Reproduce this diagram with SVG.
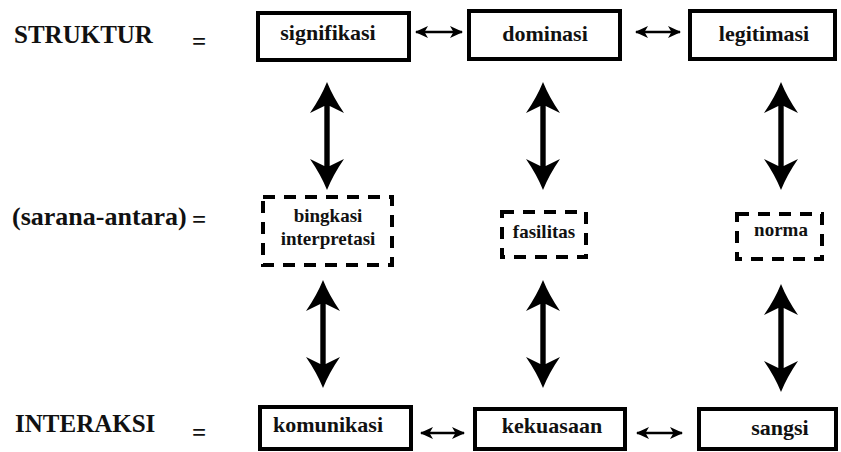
<svg xmlns="http://www.w3.org/2000/svg" xmlns:xlink="http://www.w3.org/1999/xlink" width="841" height="452" viewBox="0 0 841 452">
<style>
  text { font-family: "Liberation Serif", "DejaVu Serif", serif; font-weight: bold; fill: #111; }
  .lbl { font-size: 25px; }
  .txt { font-size: 22px; text-anchor: middle; }
  .txt2 { font-size: 19px; text-anchor: middle; }
  .box { fill: #fff; stroke: #000; stroke-width: 4; }
  .dbox { fill: #fff; stroke: #000; stroke-width: 4; stroke-dasharray: 12 9; }
  .h { stroke: #000; stroke-width: 2.5; fill: none; marker-start: url(#ah); marker-end: url(#ah); }
  .v { fill: #000; }
</style>
<defs>
  <marker id="ah" markerUnits="userSpaceOnUse" markerWidth="14" markerHeight="14" refX="12" refY="7" orient="auto-start-reverse">
    <path d="M0,1 L13,7 L0,13 L3.5,7 Z" fill="#000"/>
  </marker>
  <path id="va" d="M0,0 Q6,15 17,31 L2.7,24 L2.7,84 L17,77 Q6,93 0,108 Q-6,93 -17,77 L-2.7,84 L-2.7,24 L-17,31 Q-6,15 0,0 Z"/>
</defs>

<g id="labels">
  <text class="lbl" x="14" y="43">STRUKTUR</text>
  <text class="lbl" x="192" y="50">=</text>
  <text class="lbl" x="12" y="225" style="font-size:26px">(sarana-antara)</text>
  <text class="lbl" x="192" y="228">=</text>
  <text class="lbl" x="15" y="432">INTERAKSI</text>
  <text class="lbl" x="192" y="441">=</text>
</g>

<g id="connectors">
  <line class="h" x1="416" y1="32" x2="462" y2="32"/>
  <line class="h" x1="636" y1="32" x2="680" y2="32"/>
  <line class="h" x1="421" y1="433" x2="464" y2="433"/>
  <line class="h" x1="637" y1="433" x2="682" y2="433"/>
  <use class="v" href="#va" xlink:href="#va" x="327" y="82"/>
  <use class="v" href="#va" xlink:href="#va" x="543" y="82"/>
  <use class="v" href="#va" xlink:href="#va" x="781" y="82"/>
  <use class="v" href="#va" xlink:href="#va" x="323" y="280"/>
  <use class="v" href="#va" xlink:href="#va" x="543" y="280"/>
  <use class="v" href="#va" xlink:href="#va" x="781" y="284"/>
</g>

<g id="signifikasi">
  <rect class="box" x="258" y="13" width="151" height="47"/>
  <text class="txt" x="328" y="40">signifikasi</text>
</g>
<g id="dominasi">
  <rect class="box" x="469" y="11" width="151" height="48"/>
  <text class="txt" x="545" y="41">dominasi</text>
</g>
<g id="legitimasi">
  <rect class="box" x="690" y="11" width="145" height="48"/>
  <text class="txt" x="764" y="41">legitimasi</text>
</g>

<g id="bingkasi-interpretasi">
  <rect class="dbox" x="263" y="197" width="129" height="68"/>
  <text class="txt2" x="328" y="222">bingkasi</text>
  <text class="txt2" x="328" y="245">interpretasi</text>
</g>
<g id="fasilitas">
  <rect class="dbox" x="502" y="212" width="84" height="45"/>
  <text class="txt2" x="544" y="238">fasilitas</text>
</g>
<g id="norma">
  <rect class="dbox" x="737" y="214" width="85" height="45"/>
  <text class="txt2" x="781" y="236">norma</text>
</g>

<g id="komunikasi">
  <rect class="box" x="260" y="407" width="151" height="42"/>
  <text class="txt" x="328" y="432">komunikasi</text>
</g>
<g id="kekuasaan">
  <rect class="box" x="475" y="409" width="150" height="40"/>
  <text class="txt" x="552" y="433">kekuasaan</text>
</g>
<g id="sangsi">
  <rect class="box" x="699" y="409" width="137" height="40"/>
  <text class="txt" x="780" y="435">sangsi</text>
</g>
</svg>
